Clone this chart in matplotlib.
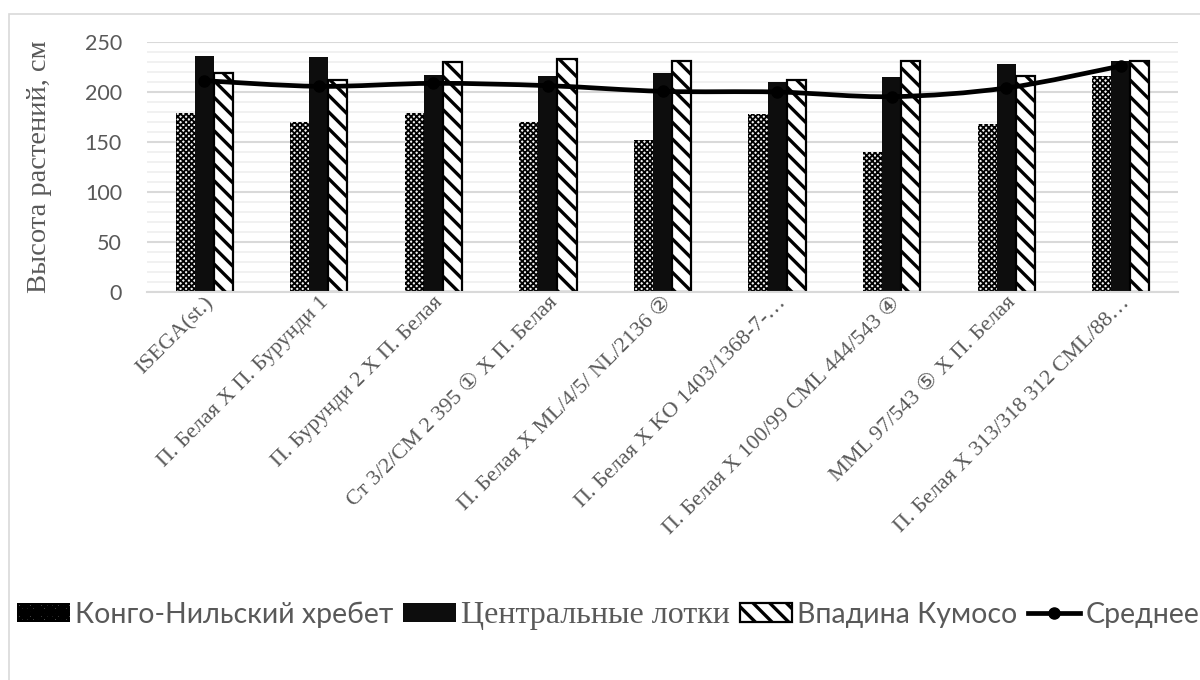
import matplotlib
matplotlib.use("Agg")
import matplotlib.pyplot as plt
from matplotlib.patches import Rectangle, Patch, PathPatch
from matplotlib.lines import Line2D
from matplotlib.path import Path
from matplotlib.ticker import MultipleLocator
import numpy as np


# Hybrids and plant height (cm) at three sites
hybrids = ['ISEGA(st.)',
           'П. Белая X П. Бурунди 1',
           'П. Бурунди 2 X П. Белая',
           'Ст 3/2/CM 2 395 \u2460 X П. Белая',
           'П. Белая X ML/4/5/ NL/2136 \u2461',
           'П. Белая X KO 1403/1368-7-…',
           'П. Белая X 100/99 CML 444/543 \u2463',
           'MML 97/543 \u2464 X П. Белая',
           'П. Белая X 313/318 312 CML/88…']

kongo   = [179, 170, 179, 170, 152, 178, 140, 168, 216]
central = [236, 235, 217, 216, 219, 210, 215, 228, 231]
kumoso  = [219, 212, 230, 233, 231, 212, 231, 216, 231]

series_names = ['Конго-Нильский хребет', 'Центральные лотки', 'Впадина Кумосо', 'Среднее']

mean = np.mean([kongo, central, kumoso], axis=0)

SANS = ['Lato', 'DejaVu Sans']
SERIF = ['Liberation Serif', 'DejaVu Sans']
GREY = '#595959'

fig = plt.figure(figsize=(12, 6.8), dpi=100)
ax = fig.add_axes([147/1200, 1 - 292/680, (1178 - 147)/1200, 250/680])

# outer chart frame
fig.patches.append(Rectangle((9/1200, -0.2), 2.0, 1.2 - 14/680, transform=fig.transFigure,
                             fill=False, edgecolor='#d9d9d9', lw=1.2, zorder=0))

x = np.arange(len(hybrids))
w = 1/6


def set_hatch_lw(bars, lw):
    for b in bars:
        if hasattr(b, 'set_hatch_linewidth'):
            b.set_hatch_linewidth(lw)


plt.rcParams['hatch.linewidth'] = 1.3
b1 = ax.bar(x - w, kongo, w, color='#f2f2f2', edgecolor='black', linewidth=0,
            hatch='xxxxxx', zorder=2)
set_hatch_lw(b1, 1.3)
b2 = ax.bar(x, central, w, color='#0d0d0d', edgecolor='#0d0d0d', linewidth=0, zorder=2)
plt.rcParams['hatch.linewidth'] = 2.4
b3 = ax.bar(x + w, kumoso, w, color='white', edgecolor='black', linewidth=1.6,
            hatch='\\\\', zorder=2)
set_hatch_lw(b3, 2.4)

# smoothed mean line (cubic Bezier through the points)
pts = np.column_stack([x, mean])
verts = [pts[0]]
codes = [Path.MOVETO]
n = len(pts)
for i in range(n - 1):
    p0 = pts[max(i - 1, 0)]
    p1 = pts[i]
    p2 = pts[i + 1]
    p3 = pts[min(i + 2, n - 1)]
    c1 = p1 + (p2 - p0) / 6
    c2 = p2 - (p3 - p1) / 6
    verts += [c1, c2, p2]
    codes += [Path.CURVE4] * 3
ax.add_patch(PathPatch(Path(verts, codes), fill=False, edgecolor='black', lw=3.4,
                       capstyle='round', joinstyle='round', zorder=4))
ax.plot(x, mean, ls='none', marker='o', ms=8, color='black', zorder=5)

ax.set_xlim(-0.5, len(hybrids) - 0.5)
ax.set_ylim(0, 250)
ax.yaxis.set_major_locator(MultipleLocator(50))
ax.yaxis.set_minor_locator(MultipleLocator(10))
ax.grid(axis='y', which='major', color='#d9d9d9', lw=1.5, zorder=0)
ax.grid(axis='y', which='minor', color='#efefef', lw=1.2, zorder=0)
ax.set_axisbelow(True)
for s in ['top', 'right', 'left']:
    ax.spines[s].set_visible(False)
ax.spines['bottom'].set_color('#d9d9d9')
ax.spines['bottom'].set_linewidth(1.5)
ax.tick_params(which='both', length=0)
ax.tick_params(axis='y', pad=18)

ax.set_xticks(x)
ax.set_xticklabels(hybrids, rotation=45, ha='right', va='top', rotation_mode='anchor',
                   family=SERIF, fontsize=16, color=GREY)
ax.tick_params(axis='x', pad=1)
for t in ax.get_yticklabels():
    t.set_family(SANS)
    t.set_fontsize(15.5)
    t.set_color(GREY)

ax.set_ylabel('Высота растений, см', family=SERIF, fontsize=20.5, color=GREY)
ax.yaxis.set_label_coords(-95/1031, 0.5)

handles = [Patch(facecolor='#f2f2f2', edgecolor='black', hatch='xxxxxx', lw=0),
           Patch(facecolor='#0d0d0d', edgecolor='#0d0d0d', lw=0),
           Patch(facecolor='white', edgecolor='black', hatch='\\\\', lw=1.6),
           Line2D([], [], color='black', lw=3.4, marker='o', ms=8)]
leg = fig.legend(handles, series_names, loc='center left', ncol=4, frameon=False,
                 bbox_to_anchor=(17/1200, 1 - 615/680), borderaxespad=0, borderpad=0,
                 prop={'family': SANS, 'size': 20.5}, handlelength=1.85, handleheight=0.6,
                 handletextpad=0.18, columnspacing=0.35)
for t in leg.get_texts():
    t.set_color(GREY)
leg.get_texts()[1].set_family(SERIF)
leg.get_texts()[1].set_fontsize(23)

fig.savefig('out.png', dpi=100)
